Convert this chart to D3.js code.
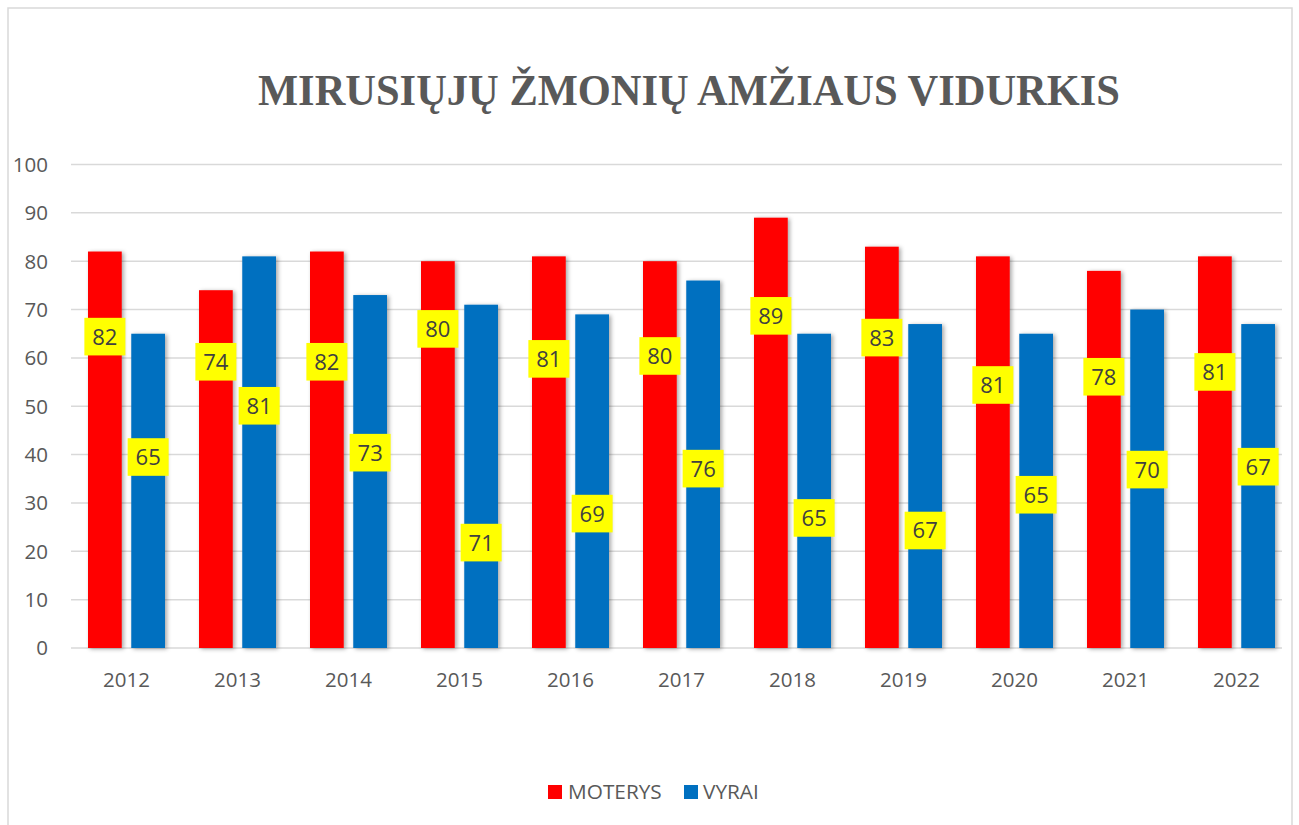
<!DOCTYPE html>
<html><head><meta charset="utf-8">
<script src="https://cdnjs.cloudflare.com/ajax/libs/d3/7.8.5/d3.min.js"></script>
<style>body{margin:0;background:#fff}svg{display:block}</style>
</head><body>
<script>
const title = "MIRUSIŲJŲ ŽMONIŲ AMŽIAUS VIDURKIS";
const years = ["2012","2013","2014","2015","2016","2017","2018","2019","2020","2021","2022"];
const seriesNames = ["MOTERYS","VYRAI"];
const moterys = [82,74,82,80,81,80,89,83,81,78,81];
const vyrai = [65,81,73,71,69,76,65,67,65,70,67];
// data-label anchor values (manually placed labels, in axis units)
const moterysLabelAt = [64.4,59.2,59.2,66.0,59.8,60.4,68.7,64.2,54.4,56.1,57.1];
const vyraiLabelAt = [39.5,50.1,40.4,21.8,27.8,37.1,26.9,24.3,31.7,36.9,37.5];
const yTicks = [0,10,20,30,40,50,60,70,80,90,100];
const colors = ["#FF0000","#0070C0"];

const W=1299,H=825;
const svg=d3.select("body").append("svg").attr("width",W).attr("height",H);
const defs=svg.append("defs");
const f=defs.append("filter").attr("id","sh").attr("x","-30%").attr("y","-10%").attr("width","160%").attr("height","120%");
f.append("feDropShadow").attr("dx",2).attr("dy",1).attr("stdDeviation",2).attr("flood-color","#000").attr("flood-opacity",0.35);

svg.append("rect").attr("x",8).attr("y",8).attr("width",1284).attr("height",H).attr("fill","#fff").attr("stroke","#d9d9d9").attr("stroke-width",1.5);

const font="'Open Sans', sans-serif";
svg.append("text").attr("x",689).attr("y",105).attr("text-anchor","middle")
  .attr("font-family","'Liberation Serif','Times New Roman',serif").attr("font-weight","bold")
  .attr("font-size",45).attr("fill","#595959")
  .attr("textLength",862).attr("lengthAdjust","spacingAndGlyphs").text(title);

const x=d3.scaleBand().domain(years).range([71,1292]).paddingInner(0).paddingOuter(0);
const y=d3.scaleLinear().domain([0,100]).range([648,164.5]);
const sub=d3.scaleBand().domain(seriesNames).range([0,77]).paddingInner(0.22);
const pairOff=(x.bandwidth()-77)/2;

const g=svg.append("g");
g.selectAll("line.grid").data(yTicks).join("line").attr("class","grid")
  .attr("x1",71).attr("x2",1282).attr("y1",d=>y(d)).attr("y2",d=>y(d))
  .attr("stroke","#d9d9d9").attr("stroke-width",1.5);

const yAxis=d3.axisLeft(y).tickValues(yTicks).tickSize(0).tickPadding(0).tickFormat(d3.format("d"));
const ya=svg.append("g").attr("transform","translate(48,0)").call(yAxis);
ya.select(".domain").remove();
ya.selectAll("text").attr("font-family",font).attr("font-size",20.5).attr("fill","#595959").attr("dy","0.34em");

const xAxis=d3.axisBottom(x).tickSize(0).tickPadding(0);
const xa=svg.append("g").attr("transform","translate(0,680)").call(xAxis);
xa.select(".domain").remove();
xa.selectAll("text").attr("font-family",font).attr("font-size",20.5).attr("fill","#595959").attr("dy","0.34em");

const series=[moterys,vyrai], labelAt=[moterysLabelAt,vyraiLabelAt];
series.forEach((vals,si)=>{
  const name=seriesNames[si];
  g.selectAll("rect.b"+si).data(vals).join("rect").attr("class","b"+si)
    .attr("x",(d,i)=>x(years[i])+pairOff+sub(name)).attr("width",sub.bandwidth())
    .attr("y",d=>y(d)).attr("height",d=>y(0)-y(d)).attr("fill",colors[si]).attr("filter","url(#sh)");
});
series.forEach((vals,si)=>{
  const name=seriesNames[si];
  const lg=g.selectAll("g.l"+si).data(vals).join("g").attr("class","l"+si)
    .attr("transform",(d,i)=>`translate(${x(years[i])+pairOff+sub(name)+sub.bandwidth()/2},${y(labelAt[si][i])})`);
  lg.append("rect").attr("x",-20.5).attr("y",-18.8).attr("width",41).attr("height",37.6).attr("fill","#FFFF00");
  lg.append("text").attr("text-anchor","middle").attr("dy","0.36em").attr("font-family",font).attr("font-size",22)
    .attr("fill","#404040").text(d=>d);
});

// legend
const leg=svg.append("g");
const legX=[548,684], legTX=[568,703];
seriesNames.forEach((n,i)=>{
  leg.append("rect").attr("x",legX[i]).attr("y",785).attr("width",14).attr("height",14).attr("fill",colors[i]);
  leg.append("text").attr("x",legTX[i]).attr("y",792).attr("dy","0.36em").attr("font-family",font).attr("font-size",20.8).attr("fill","#595959").text(n);
});
</script>
</body></html>
